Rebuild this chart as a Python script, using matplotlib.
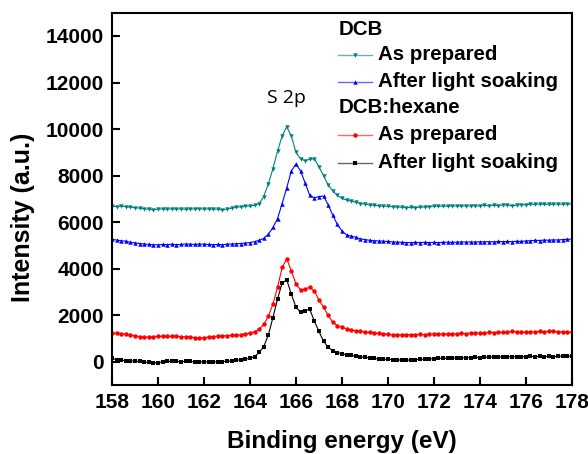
import numpy as np
import matplotlib
matplotlib.use("Agg")
import matplotlib.pyplot as plt

plt.rcParams["font.family"] = ["Liberation Sans", "DejaVu Sans"]

# binding energy grid (eV), 0.2 eV step
energy = np.round(np.arange(158.0, 178.01, 0.2), 1)

dcb_prepared = [
    6680, 6670, 6690, 6660, 6640, 6620, 6600, 6570, 6560, 6530,
    6560, 6570, 6550, 6580, 6560, 6570, 6550, 6570, 6560, 6580,
    6560, 6570, 6550, 6560, 6520, 6560, 6600, 6640, 6660, 6680,
    6700, 6720, 6800, 7100, 7650, 8300, 9050, 9700, 10100, 9700,
    9000, 8720, 8640, 8700, 8720, 8380, 8000, 7600, 7350, 7150,
    7020, 6950, 6900, 6860, 6800, 6780, 6740, 6720, 6700, 6690,
    6680, 6660, 6650, 6640, 6620, 6630, 6620, 6640, 6650, 6660,
    6690, 6680, 6690, 6680, 6700, 6690, 6700, 6690, 6700, 6710,
    6690, 6720, 6700, 6730, 6710, 6740, 6730, 6700, 6730, 6750,
    6740, 6770, 6760, 6780, 6760, 6770, 6760, 6780, 6770, 6780,
    6770,
]
dcb_soaked = [
    5260, 5230, 5200, 5180, 5130, 5110, 5080, 5060, 5040, 5030,
    5020, 5040, 5030, 5050, 5030, 5040, 5060, 5050, 5040, 5060,
    5050, 5040, 5030, 5040, 5030, 5050, 5060, 5070, 5080, 5100,
    5120, 5160, 5220, 5300, 5480, 5770, 6150, 6800, 7480, 8200,
    8500, 8200, 7680, 7150, 7040, 7100, 7120, 6750, 6300, 5900,
    5620, 5450, 5400, 5350, 5280, 5250, 5220, 5200, 5190, 5180,
    5170, 5150, 5140, 5130, 5120, 5120, 5130, 5120, 5130, 5120,
    5130, 5120, 5130, 5140, 5130, 5140, 5150, 5140, 5150, 5140,
    5160, 5150, 5160, 5150, 5170, 5160, 5170, 5160, 5180, 5170,
    5190, 5200, 5220, 5210, 5230, 5220, 5240, 5230, 5250, 5260,
    5270,
]
hex_prepared = [
    1240, 1220, 1200, 1180, 1150, 1120, 1080, 1050, 1060, 1080,
    1090, 1100, 1090, 1100, 1100, 1080, 1070, 1060, 1040, 1020,
    1040, 1060, 1080, 1100, 1110, 1120, 1140, 1150, 1160, 1200,
    1230, 1290, 1400, 1600, 1950, 2480, 3200, 4050, 4420, 3900,
    3350, 3080, 3120, 3200, 3050, 2650, 2350, 2000, 1700, 1550,
    1480, 1420, 1370, 1330, 1300, 1280, 1260, 1240, 1220, 1200,
    1180, 1160, 1170, 1160, 1170, 1160, 1170, 1180, 1170, 1180,
    1190, 1180, 1190, 1200, 1210, 1200, 1220, 1210, 1230, 1220,
    1240, 1230, 1260, 1250, 1270, 1260, 1280, 1300, 1280, 1270,
    1280, 1290, 1280, 1300, 1290, 1310, 1300, 1290, 1280, 1270,
    1260,
]
hex_soaked = [
    140, 90, 60, 50, 40, 20, 10, -10, -30, -50,
    -40, -10, 10, 20, 10, 0, 20, 10, 0, -10,
    0, -10, 0, -10, 0, 20, 40, 60, 80, 110,
    150, 220, 400, 650, 1150, 1900, 2700, 3380, 3520, 2900,
    2350, 2120, 2200, 2250, 1750, 1300, 880, 620, 480, 390,
    340, 300, 270, 240, 210, 190, 160, 140, 120, 110,
    100, 90, 80, 70, 60, 80, 90, 100, 110, 120,
    130, 150, 140, 160, 150, 170, 160, 180, 170, 190,
    180, 200, 190, 210, 200, 210, 220, 210, 220, 210,
    220, 230, 220, 230, 220, 230, 220, 230, 240, 230,
    240,
]

series = [
    ("As prepared", dcb_prepared, "#008080", "v"),
    ("After light soaking", dcb_soaked, "#0000ff", "^"),
    ("As prepared", hex_prepared, "#ff0000", "o"),
    ("After light soaking", hex_soaked, "#000000", "s"),
]

fig = plt.figure(figsize=(5.88, 4.54), dpi=100)
ax = fig.add_axes([0.1905, 0.152, 0.782, 0.820])

for label, vals, col, mk in series:
    ax.plot(energy, vals, color=col, lw=0.8, marker=mk, ms=3.2, mew=0)

ax.set_xlim(158, 178)
ax.set_ylim(-1000, 15000)
ax.set_xticks(np.arange(158, 179, 2))
ax.set_yticks(np.arange(0, 14001, 2000))
ax.tick_params(direction="in", length=6, width=1.5, labelsize=15, pad=6)
for lab in ax.get_xticklabels() + ax.get_yticklabels():
    lab.set_fontweight("bold")
for sp in ax.spines.values():
    sp.set_linewidth(1.5)

ax.set_xlabel("Binding energy (eV)", fontsize=17.5, fontweight="bold")
ax.set_ylabel("Intensity (a.u.)", fontsize=18, fontweight="bold")
ax.xaxis.set_label_coords(0.5, -0.153)
ax.yaxis.set_label_coords(-0.193, 0.45)
ax.xaxis.label.set_va("center")
ax.yaxis.label.set_va("center")

ax.text(165.6, 11350, "S 2p", fontsize=14, ha="center", va="center",
        family=["Open Sans", "DejaVu Sans"])

# hand-built legend with group headers
rows = [0.954, 0.887, 0.815, 0.745, 0.672, 0.597]
ax.text(0.4935, rows[0], "DCB", transform=ax.transAxes, fontsize=14.8,
        fontweight="bold", va="center")
ax.text(0.4935, rows[3], "DCB:hexane", transform=ax.transAxes, fontsize=14.8,
        fontweight="bold", va="center")
for (label, vals, col, mk), yy in zip(series, [rows[1], rows[2], rows[4], rows[5]]):
    ax.plot([0.491, 0.528, 0.565], [yy, yy, yy], transform=ax.transAxes,
            color=col, lw=1.0, alpha=0.6, clip_on=False)
    ax.plot([0.528], [yy], transform=ax.transAxes, color=col, marker=mk,
            ms=3.2, mew=0, clip_on=False)
    ax.text(0.578, yy, label, transform=ax.transAxes, fontsize=14.8,
            fontweight="bold", va="center")

fig.savefig("out.png", dpi=100)
